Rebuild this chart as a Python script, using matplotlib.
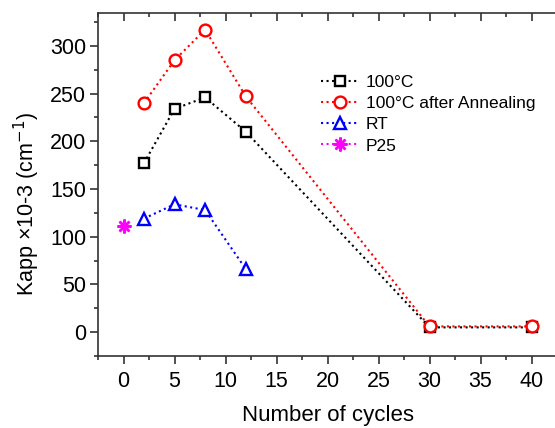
import matplotlib.pyplot as plt

plt.rcParams['font.family'] = ['Liberation Sans', 'DejaVu Sans']

# data
cycles_100 = [2, 5, 8, 12, 30, 40]
kapp_100 = [177, 234, 246, 210, 5, 5]
kapp_anneal = [240, 285, 317, 247, 6, 6]
cycles_rt = [2, 5, 8, 12]
kapp_rt = [119, 134, 128, 66]
cycles_p25 = [0]
kapp_p25 = [111]

fig = plt.figure(figsize=(5.55, 4.28), dpi=100)
ax = fig.add_axes([98 / 555, 72 / 428, 459 / 555, 343 / 428])

style = dict(linestyle=':', linewidth=1.5, markeredgewidth=1.7, markerfacecolor='white')
ax.plot(cycles_100, kapp_100, color='black', marker='s', markersize=7, label='100°C', **style)
ax.plot(cycles_100, kapp_anneal, color='red', marker='o', markersize=8.5,
        label='100°C after Annealing', **style)
ax.plot(cycles_rt, kapp_rt, color='blue', marker='^', markersize=8.5, label='RT', **style)
ax.plot(cycles_p25, kapp_p25, color='magenta', marker=(8, 2, 0), markersize=10,
        markeredgewidth=1.8, linestyle=':', linewidth=1.5, label='P25')

ax.set_xlim(-2.5, 41.6)
ax.set_ylim(-24, 334.5)
ax.set_xticks(range(0, 41, 5))
ax.set_xticks([x + 2.5 for x in range(-5, 41, 5)], minor=True)
ax.set_yticks(range(0, 301, 50))
ax.set_yticks(range(-25, 334, 25), minor=True)
ax.tick_params(which='both', direction='out', labelsize=15.5, width=1.2, color='#333333', pad=3)
ax.tick_params(which='major', length=5.5)
ax.tick_params(which='minor', length=3)
ax.tick_params(axis='x', pad=5)
ax.tick_params(which='both', top=True, right=True)
for spine in ax.spines.values():
    spine.set_linewidth(1.2)
    spine.set_color('#333333')

# mirrored ticks point inward
for tick in ax.xaxis.get_major_ticks() + ax.xaxis.get_minor_ticks():
    tick.tick2line.set_marker(3)
for tick in ax.yaxis.get_major_ticks() + ax.yaxis.get_minor_ticks():
    tick.tick2line.set_marker(1)

ax.set_xlabel('Number of cycles', fontsize=16, labelpad=10)
ax.set_ylabel('Kapp ×10-3 (cm$^{-1}$)', fontsize=15.5)
ax.yaxis.set_label_coords(-0.123, 0.443)

ax.legend(loc='upper left', bbox_to_anchor=(312 / 555, 1 - 66 / 428),
          bbox_transform=fig.transFigure, frameon=False, fontsize=12.5,
          handlelength=2.2, handletextpad=0.4, labelspacing=0.35, borderpad=0)

fig.savefig('out.png', dpi=100)
